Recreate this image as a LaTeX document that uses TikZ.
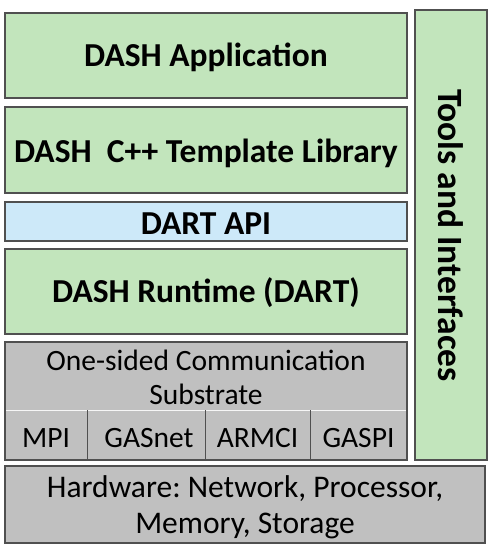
\documentclass[tikz,border=0pt]{standalone}
\usepackage{fontspec}
\setmainfont{Carlito}
\frenchspacing
\definecolor{lgreen}{HTML}{C2E5BC}
\definecolor{lblue}{HTML}{CDE9F9}
\definecolor{lgray}{HTML}{C0C0C0}
\definecolor{edge}{HTML}{505050}
\tikzset{
  layer/.style={draw=edge, line width=1.3pt},
  boldtxt/.style={font=\fontsize{33.5}{38}\selectfont\bfseries, inner sep=0pt, anchor=base},
  regtxt/.style={font=\fontsize{29.5}{36}\selectfont, inner sep=0pt, anchor=base},
  hwtxt/.style={font=\fontsize{31.5}{36}\selectfont, inner sep=0pt, anchor=base},
}
\begin{document}
\begin{tikzpicture}[x=1pt,y=-1pt]
\useasboundingbox (0,0) rectangle (489,552);
% boxes
\path[layer, fill=lgreen] (5,13) rectangle (407,98);
\node[boldtxt] (app) at (206,66) {DASH Application};
\path[layer, fill=lgreen] (5,107) rectangle (407,193);
\node[boldtxt] (lib) at (206,162) {DASH\ \ C++ Template Library};
\path[layer, fill=lblue] (5,202) rectangle (407,241);
\node[boldtxt] (api) at (206,234) {DART API};
\path[layer, fill=lgreen] (5,249) rectangle (407,334);
\node[boldtxt] (rt) at (206,302) {DASH Runtime (DART)};
% substrate
\path[layer, fill=lgray] (5,342) rectangle (407,460);
\draw[white!85!lgray, line width=0.8pt] (6,410) -- (406,410);
\draw[edge, line width=1pt] (87,410) -- (87,460);
\draw[edge, line width=1pt] (205,410) -- (205,460);
\draw[edge, line width=1pt] (310,410) -- (310,460);
\node[regtxt] (sub1) at (206,370) {One-sided Communication};
\node[regtxt] (sub2) at (206,404) {Substrate};
\node[regtxt] (mpi) at (46,447) {MPI};
\node[regtxt] (gas) at (149,447) {GASnet};
\node[regtxt] (arm) at (257.5,447) {ARMCI};
\node[regtxt] (gaspi) at (358.5,447) {GASPI};
% hardware
\path[layer, fill=lgray] (5,466) rectangle (485,543);
\node[hwtxt] (hw1) at (245,497) {Hardware: Network, Processor,};
\node[hwtxt] (hw2) at (245,533) {Memory, Storage};
% tools
\path[layer, fill=lgreen] (415,10) rectangle (487,460);
\node[boldtxt, font=\fontsize{35.5}{40}\selectfont\bfseries, rotate=-90] (tools) at (438,235.5) {Tools and Interfaces};
\end{tikzpicture}
\end{document}
